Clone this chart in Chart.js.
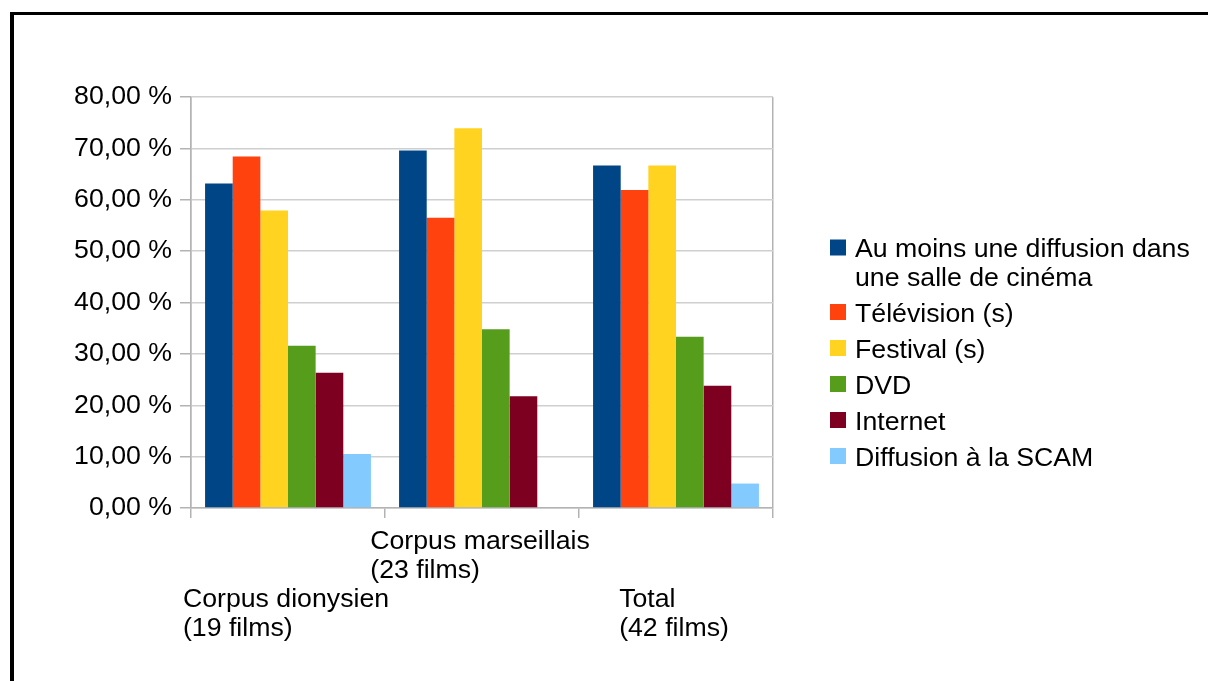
<!DOCTYPE html>
<html>
<head>
<meta charset="utf-8">
<title>Modes de diffusion des films</title>
<script src="https://cdn.jsdelivr.net/npm/chart.js"></script>
<style>
    html, body {
        margin: 0;
        padding: 0;
        background: #fff;
        overflow: hidden;
    }
    .chart-container {
        position: relative;
        width: 1208px;
        height: 681px;
    }
</style>
</head>
<body>
<div class="chart-container">
    <canvas id="diffChart"></canvas>
</div>
<script>
// données (en %)
const categories = [
    ['Corpus dionysien', '(19 films)'],
    ['Corpus marseillais', '(23 films)'],
    ['Total', '(42 films)']
];
const seriesNames = [
    ['Au moins une diffusion dans', 'une salle de cinéma'],
    ['Télévision (s)'],
    ['Festival (s)'],
    ['DVD'],
    ['Internet'],
    ['Diffusion à la SCAM']
];
const salle = [63.16, 69.57, 66.67];
const television = [68.42, 56.52, 61.90];
const festival = [57.89, 73.91, 66.67];
const dvd = [31.58, 34.78, 33.33];
const internet = [26.32, 21.74, 23.81];
const scam = [10.53, 0, 4.76];
const yMax = 80;
const yStep = 10;

const colors = ['#004586', '#ff420e', '#ffd320', '#579d1c', '#7e0021', '#83caff'];
const FONT_SIZE = 26.7;
const FONT = FONT_SIZE + 'px "Liberation Sans", Arial, sans-serif';
const seriesValues = [salle, television, festival, dvd, internet, scam];

// cadre noir autour du graphique
const framePlugin = {
    id: 'frame',
    beforeDraw(chart) {
        const ctx = chart.ctx;
        ctx.save();
        ctx.fillStyle = '#000';
        ctx.fillRect(10, 12, chart.width - 10, 3);
        ctx.fillRect(10, 12, 4, chart.height - 12);
        ctx.restore();
    }
};

// étiquettes de l'axe x sur deux rangées
const xLabelsPlugin = {
    id: 'xLabels',
    afterDraw(chart) {
        const ctx = chart.ctx;
        const xs = chart.scales.x;
        const bottom = chart.chartArea.bottom;
        ctx.save();
        ctx.font = FONT;
        ctx.fillStyle = '#000';
        ctx.textAlign = 'left';
        ctx.textBaseline = 'alphabetic';
        categories.forEach((lines, i) => {
            const cx = xs.getPixelForValue(i);
            const w = Math.max(...lines.map(l => ctx.measureText(l).width));
            const left = cx - w / 2 - 2;
            const base = bottom + (i % 2 ? 41 : 99);
            lines.forEach((l, k) => ctx.fillText(l, left, base + k * 28.7));
        });
        ctx.restore();
    }
};

// légende à droite (texte sur plusieurs lignes)
const legendPlugin = {
    id: 'sideLegend',
    afterDraw(chart) {
        const ctx = chart.ctx;
        const x0 = chart.chartArea.right + 57;
        let y = 247.5;
        ctx.save();
        ctx.font = FONT;
        ctx.textAlign = 'left';
        ctx.textBaseline = 'alphabetic';
        chart.data.datasets.forEach((ds, i) => {
            ctx.fillStyle = ds.backgroundColor;
            ctx.fillRect(x0, y - 8, 16, 16);
            ctx.fillStyle = '#000';
            const lines = seriesNames[i];
            lines.forEach((l, k) => ctx.fillText(l, x0 + 25, y + 9.5 + k * 28.5));
            y += (lines.length - 1) * 28.5 + 36;
        });
        ctx.restore();
    }
};

const ctx = document.getElementById('diffChart').getContext('2d');
new Chart(ctx, {
    type: 'bar',
    data: {
        labels: categories.map(c => c.join(' ')),
        datasets: seriesValues.map((vals, i) => ({
            label: seriesNames[i].join(' '),
            data: vals,
            backgroundColor: colors[i],
            borderWidth: 0,
            categoryPercentage: 0.855,
            barPercentage: 1
        }))
    },
    options: {
        responsive: true,
        maintainAspectRatio: false,
        animation: false,
        layout: {
            padding: { top: 97, right: 435, bottom: 0, left: 0 }
        },
        plugins: {
            legend: { display: false },
            tooltip: { enabled: false }
        },
        scales: {
            x: {
                ticks: { display: false },
                grid: {
                    drawOnChartArea: true,
                    color: c => (c.type === 'scale' || c.index === 0) ? '#b3b3b3' : 'transparent',
                    tickColor: '#b3b3b3',
                    tickLength: 10,
                    lineWidth: 1.5
                },
                border: { display: true, color: '#b3b3b3', width: 1.5 },
                afterFit(s) { s.height = 173; }
            },
            y: {
                min: 0,
                max: yMax,
                ticks: {
                    stepSize: yStep,
                    color: '#000',
                    font: { family: '"Liberation Sans", Arial, sans-serif', size: FONT_SIZE },
                    padding: 8,
                    callback: v => v.toFixed(2).replace('.', ',') + ' %'
                },
                grid: {
                    color: '#cfcfcf',
                    tickColor: '#b3b3b3',
                    tickLength: 11,
                    lineWidth: 1.5
                },
                border: { display: true, color: '#b3b3b3', width: 1.5 },
                afterFit(s) { s.width = 191; }
            }
        }
    },
    plugins: [framePlugin, xLabelsPlugin, legendPlugin]
});
</script>
</body>
</html>
